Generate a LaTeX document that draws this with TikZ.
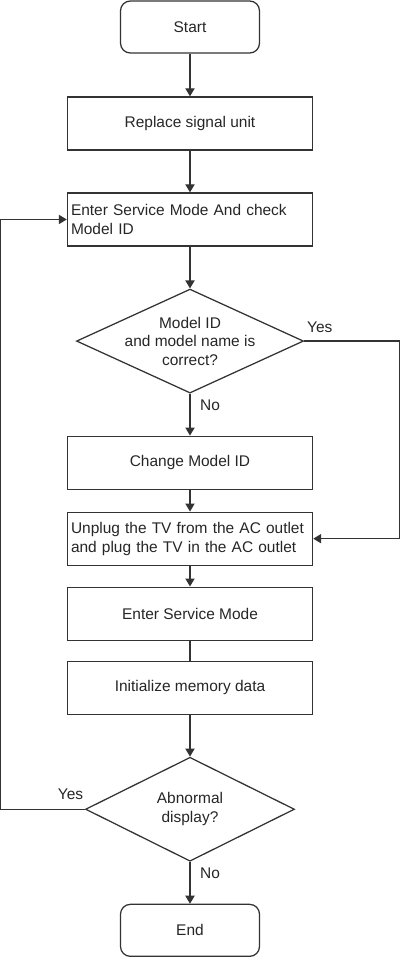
\documentclass[tikz,border=0pt]{standalone}
\usepackage{fontspec}
\setmainfont{Liberation Sans}
\usetikzlibrary{arrows.meta,positioning,shapes.geometric}
\tikzset{
  termbox/.style={draw=black!80, line width=0.9pt, rounded corners=7pt, align=center,
    minimum width=3.475cm, minimum height=1.3cm, font=\fontsize{11}{13.5}\selectfont, text=black!85},
  procbox/.style={draw=black!80, line width=0.9pt, align=center, minimum width=6.125cm,
    minimum height=1.325cm, font=\fontsize{11}{13.5}\selectfont, text=black!85},
  leftbox/.style={procbox, align=left, text width=5.95cm, inner xsep=0.09cm},
  decision/.style={draw=black!80, line width=0.9pt, diamond, minimum width=5.675cm,
    minimum height=2.6cm, inner sep=0pt},
  dtext/.style={align=center, font=\fontsize{11}{13.2}\selectfont, text=black!85},
  lbl/.style={font=\fontsize{11}{13.5}\selectfont, text=black!85, inner sep=1pt},
  arrow/.style={-{Triangle[length=2mm, width=2.3mm]}, line width=0.9pt, draw=black!80},
  link/.style={line width=0.9pt, draw=black!80}
}
\begin{document}
\begin{tikzpicture}
    \useasboundingbox (0,0) rectangle (10,-24.025);
    \node[termbox] (start) at (4.75,-0.675) {Start};
    \node[procbox, below=1.068cm of start] (rep) {Replace signal unit};
    \node[leftbox, below=1.043cm of rep] (chk) {Enter Service Mode And check\\Model ID};
    \node[decision, below=1.046cm of chk] (dec1) {};
    \node[dtext] (dec1t) at (dec1) {Model ID\\and model name is\\correct?};
    \node[procbox, below=1.046cm of dec1] (chg) {Change Model ID};
    \node[leftbox, below=0.543cm of chg] (unp) {Unplug the TV from the AC outlet\\and plug the TV in the AC outlet};
    \node[procbox, below=0.518cm of unp] (ent) {Enter Service Mode};
    \node[procbox, below=0.493cm of ent] (init) {Initialize memory data};
    \node[decision, minimum width=5.225cm, below=1.046cm of init] (dec2) {};
    \node[dtext] (dec2t) at (dec2) {Abnormal\\display?};
    \node[termbox, below=1.046cm of dec2] (finish) {End};
    % branch labels
    \node[lbl, anchor=south west] (yes1) at ([xshift=1pt, yshift=5pt]dec1.east) {Yes};
    \node[lbl, anchor=north west] (no1) at ([xshift=6pt, yshift=-3.3pt]dec1.south) {No};
    \node[lbl, anchor=south east] (yes2) at ([yshift=5.5pt]dec2.west) {Yes};
    \node[lbl, anchor=north west] (no2) at ([xshift=6pt, yshift=-3.3pt]dec2.south) {No};
    \foreach \a/\b in {start/rep,rep/chk,chk/dec1,dec1/chg,chg/unp,unp/ent,init/dec2,dec2/finish}
      \draw[arrow] (\a) -- (\b);
    \draw[link] (ent) -- (init);
    \draw[arrow] (dec1.east) -- ++(2.375,0) |- (unp.east);
    \draw[arrow] (dec2.west) -- ++(-2.1,0) |- (chk.west);
  \end{tikzpicture}
\end{document}
